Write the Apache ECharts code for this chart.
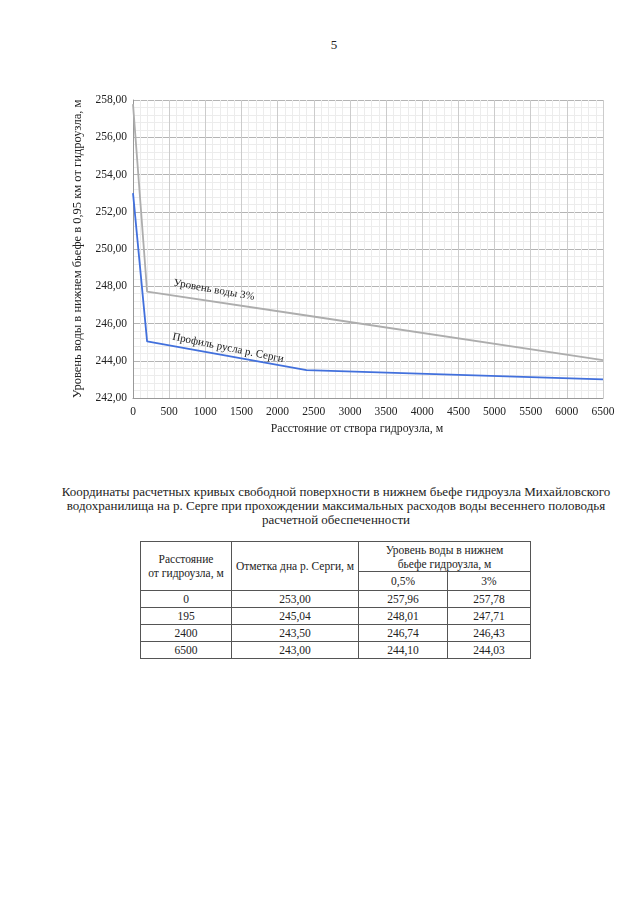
<!DOCTYPE html>
<html>
<head>
<meta charset="utf-8">
<script src="https://cdn.jsdelivr.net/npm/echarts@6/dist/echarts.min.js"></script>
<style>
  html, body { margin: 0; padding: 0; background: #fff; }
  body { width: 640px; height: 900px; position: relative; font-family: "Liberation Serif", "Times New Roman", Tinos, "DejaVu Serif", serif; color: #222; }
  #page { position: absolute; left: 324px; top: 37px; width: 20px; text-align: center; font-size: 13px; }
  #chart { position: absolute; left: 0; top: 0; width: 640px; height: 460px; }
  #caption { position: absolute; left: 51px; top: 485px; width: 570px; text-align: center; font-size: 13px; line-height: 14px; }
  table { position: absolute; left: 140px; top: 541px; border-collapse: collapse; font-size: 11.5px; }
  td { border: 1px solid #555; text-align: center; padding: 0; height: 16px; line-height: 14px; }
</style>
</head>
<body>
<div id="page">5</div>
<div id="chart"></div>
<div id="caption">Координаты расчетных кривых свободной поверхности в нижнем бьефе гидроузла Михайловского водохранилища на р. Серге при прохождении максимальных расходов воды весеннего половодья расчетной обеспеченности</div>
<table id="tbl"></table>
<script>
// ---- data ----
const distances = [0, 195, 2400, 6500];
const bedLevel = [253.00, 245.04, 243.50, 243.00];
const water05 = [257.96, 248.01, 246.74, 244.10];
const water3 = [257.78, 247.71, 246.43, 244.03];
const seriesNames = ['Уровень воды 3%', 'Профиль русла р. Серги'];
const xAxisName = 'Расстояние от створа гидроузла, м';
const yAxisName = 'Уровень воды в нижнем бьефе в 0,95 км от гидроузла, м';
const tableHeaders = ['Расстояние от гидроузла, м', 'Отметка дна р. Серги, м', 'Уровень воды в нижнем бьефе гидроузла, м', '0,5%', '3%'];

const fmt = v => v.toFixed(2).replace('.', ',');

// ---- table ----
const tbl = document.getElementById('tbl');
let html = '<colgroup><col style="width:91px"><col style="width:127px"><col style="width:89px"><col style="width:83px"></colgroup>';
html += '<tr><td rowspan="2" style="height:48px">Расстояние<br>от гидроузла, м</td><td rowspan="2">' + tableHeaders[1] + '</td><td colspan="2" style="height:29px">Уровень воды в нижнем<br>бьефе гидроузла, м</td></tr>';
html += '<tr><td style="height:18px">' + tableHeaders[3] + '</td><td>' + tableHeaders[4] + '</td></tr>';
for (let i = 0; i < distances.length; i++) {
  html += '<tr><td>' + distances[i] + '</td><td>' + fmt(bedLevel[i]) + '</td><td>' + fmt(water05[i]) + '</td><td>' + fmt(water3[i]) + '</td></tr>';
}
tbl.innerHTML = html;

// ---- chart ----
const chart = echarts.init(document.getElementById('chart'), null, { renderer: 'canvas' });
const font = '"Liberation Serif", "Times New Roman", Tinos, "DejaVu Serif", serif';
chart.setOption({
  animation: false,
  textStyle: { fontFamily: font },
  grid: { left: 133, right: 37, top: 100, bottom: 62 },
  xAxis: {
    type: 'value', min: 0, max: 6500, interval: 500,
    name: xAxisName, nameLocation: 'middle', nameGap: 24,
    nameTextStyle: { fontFamily: font, fontSize: 11.8, color: '#222', padding: [0, 22, 0, 0] },
    axisLine: { show: true, lineStyle: { color: '#999' } },
    axisTick: { show: false },
    axisLabel: { fontFamily: font, fontSize: 11.5, color: '#222', margin: 8, formatter: v => String(v) },
    splitLine: { show: true, lineStyle: { color: '#cccccc', width: 1 } },
    minorTick: { show: false, splitNumber: 5 },
    minorSplitLine: { show: true, lineStyle: { color: '#ececec', width: 1 } }
  },
  yAxis: {
    type: 'value', min: 242, max: 258, interval: 2,
    name: yAxisName, nameLocation: 'middle', nameGap: 32, nameRotate: 90,
    nameTextStyle: { fontFamily: font, fontSize: 12.5, color: '#222' },
    axisLine: { show: true, lineStyle: { color: '#999' } },
    axisTick: { show: false },
    axisLabel: { fontFamily: font, fontSize: 11.5, color: '#222', margin: 6, formatter: v => fmt(v) },
    splitLine: { show: true, lineStyle: { color: '#b4b4b4', width: 1 } },
    minorTick: { show: false, splitNumber: 5 },
    minorSplitLine: { show: true, lineStyle: { color: '#ececec', width: 1 } }
  },
  series: [
    {
      name: seriesNames[0], type: 'line', symbol: 'none',
      data: distances.map((d, i) => [d, water3[i]]),
      lineStyle: { color: '#adadad', width: 1.8 },
      markPoint: {
        symbol: 'circle', symbolSize: 0,
        data: [{ coord: [1120, 247.80], value: seriesNames[0] }],
        label: { show: true, position: 'inside', formatter: seriesNames[0], rotate: -10, fontFamily: font, fontSize: 11, color: '#222' }
      }
    },
    {
      name: seriesNames[1], type: 'line', symbol: 'none',
      data: distances.map((d, i) => [d, bedLevel[i]]),
      lineStyle: { color: '#4270dc', width: 1.8 },
      markPoint: {
        symbol: 'circle', symbolSize: 0,
        data: [{ coord: [1314, 244.68], value: seriesNames[1] }],
        label: { show: true, position: 'inside', formatter: seriesNames[1], rotate: -11.5, fontFamily: font, fontSize: 11, color: '#222' }
      }
    }
  ]
});
</script>
</body>
</html>
